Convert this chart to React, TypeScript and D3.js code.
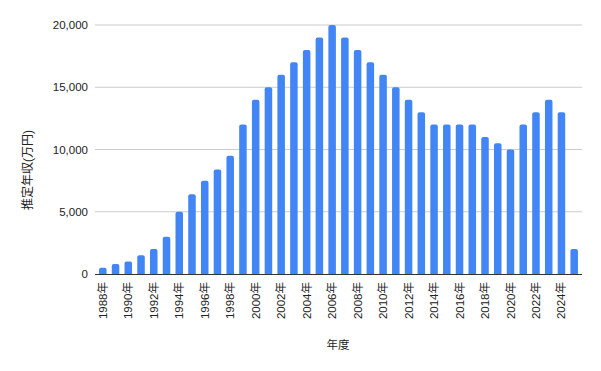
import React from "react";
import * as d3 from "d3";

const years = d3.range(1988, 2026).map((y) => `${y}年`);
const values = [
  500, 800, 1000, 1500, 2000, 3000, 5000, 6400, 7500, 8400, 9500, 12000,
  14000, 15000, 16000, 17000, 18000, 19000, 20000, 19000, 18000, 17000,
  16000, 15000, 14000, 13000, 12000, 12000, 12000, 12000, 11000, 10500,
  10000, 12000, 13000, 14000, 13000, 2000,
];
const yTicks = [0, 5000, 10000, 15000, 20000];
const yTitle = "推定年収(万円)";
const xTitle = "年度";

const W = 601;
const H = 371;
const plot = { left: 95, right: 582, top: 25, bottom: 274 };
const font = "'Liberation Sans', Arial, 'Noto Sans CJK JP', sans-serif";

export default function App() {
  const x = d3
    .scaleBand<string>()
    .domain(years)
    .range([96.5, 580.5])
    .paddingInner(0.41)
    .paddingOuter(0.2);
  const y = d3.scaleLinear().domain([0, 20000]).range([plot.bottom, plot.top]);
  const bw = x.bandwidth();
  const r = Math.min(2, bw / 2);

  const barPath = (xs: number, yt: number, w: number, yb: number) => {
    const rr = Math.min(r, (yb - yt) / 2);
    return `M${xs},${yb}V${yt + rr}Q${xs},${yt} ${xs + rr},${yt}H${xs + w - rr}Q${xs + w},${yt} ${xs + w},${yt + rr}V${yb}Z`;
  };

  return (
    <svg width={W} height={H} style={{ position: "absolute", left: 0, top: 0 }} fontFamily={font}>
      <rect width={W} height={H} fill="#fff" />
      {yTicks.map((t) => (
        <g key={t}>
          {t !== 0 && (
            <line x1={plot.left} x2={plot.right} y1={y(t)} y2={y(t)} stroke="#cccccc" strokeWidth={1} />
          )}
          <text x={88} y={y(t)} dy="0.35em" textAnchor="end" fontSize={11.5} fill="#222">
            {d3.format(",")(t)}
          </text>
        </g>
      ))}
      {values.map((v, i) => {
        const xs = x(years[i])!;
        return <path key={i} d={barPath(xs, y(v), bw, y(0))} fill="#4285F4" />;
      })}
      <line x1={plot.left} x2={plot.right} y1={y(0) + 0.5} y2={y(0) + 0.5} stroke="#333" strokeWidth={1} />
      {years.map((lab, i) =>
        i % 2 === 0 ? (
          <text
            key={lab}
            transform={`translate(${x(lab)! + bw / 2},${plot.bottom + 8}) rotate(-90)`}
            textAnchor="end"
            dy="0.35em"
            fontSize={11.5}
            fill="#222"
          >
            {lab}
          </text>
        ) : null
      )}
      <text
        transform={`translate(28,170) rotate(-90)`}
        textAnchor="middle"
        dy="0.35em"
        fontSize={12}
        fill="#222"
      >
        {yTitle}
      </text>
      <text x={338} y={345} textAnchor="middle" dy="0.35em" fontSize={11.5} fill="#222">
        {xTitle}
      </text>
    </svg>
  );
}
